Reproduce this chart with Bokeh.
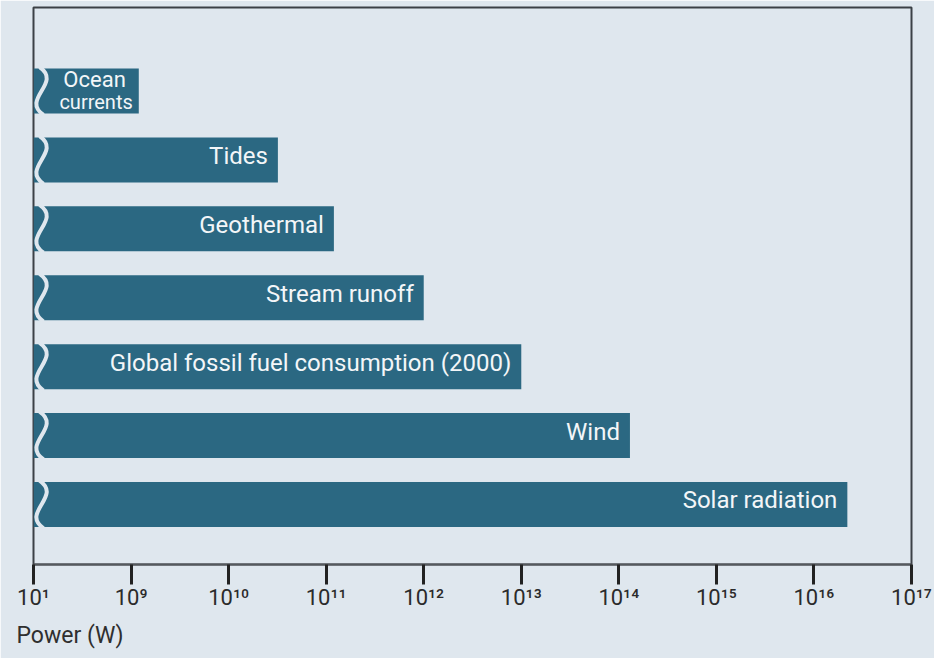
import numpy as np
from bokeh.plotting import figure
from bokeh.models import Range1d, FixedTicker, ColumnDataSource, Title
from bokeh.core.properties import value
from bokeh.embed import file_html
from bokeh.resources import INLINE

# ---- data ----
sources = ["Ocean currents", "Tides", "Geothermal", "Stream runoff",
           "Global fossil fuel consumption (2000)", "Wind", "Solar radiation"]
labels = ["Ocean\ncurrents", "Tides", "Geothermal", "Stream runoff",
          "Global fossil fuel consumption (2000)", "Wind", "Solar radiation"]
power_w = [1.2e9, 3.2e10, 1.2e11, 1.0e12, 1.0e13, 1.3e14, 2.2e16]

tick_values = [1e8, 1e9, 1e10, 1e11, 1e12, 1e13, 1e14, 1e15, 1e16, 1e17]
tick_labels = ["10¹", "10⁹", "10¹⁰", "10¹¹", "10¹²", "10¹³", "10¹⁴", "10¹⁵", "10¹⁶", "10¹⁷"]

BG = "#dfe7ee"
BAR = "#2b6882"
FONT = "Roboto"
TXT = "#f3f6f8"

x_start, x_end = tick_values[0], tick_values[-1]
rows = list(range(len(sources)))

p = figure(width=934, height=658, x_axis_type="log",
           x_range=Range1d(x_start, x_end),
           y_range=Range1d(len(sources) - 1 + 0.871, -1.212),
           output_backend="svg", toolbar_location=None,
           min_border_left=33, min_border_right=23,
           min_border_top=7, min_border_bottom=94)

p.background_fill_color = BG
p.border_fill_color = BG
p.outline_line_color = "#3c4146"
p.outline_line_width = 2
p.grid.visible = False
p.yaxis.visible = False

src = ColumnDataSource(dict(y=rows, right=power_w, label=labels,
                            left=[x_start] * len(rows)))
bar_h = 0.653
p.hbar(y="y", left="left", right="right", height=bar_h, source=src,
       fill_color=BAR, line_color=None)

# axis-break marks cut through each bar near the start of the axis
half = bar_h / 2 + 0.02
brk = ColumnDataSource(dict(
    x0=[x_start * 10 ** 0.062] * len(rows),
    y0=[r - half for r in rows],
    x1=[x_start * 10 ** 0.103] * len(rows),
    y1=[r + half for r in rows],
    cx0=[x_start * 10 ** 0.30] * len(rows),
    cy0=[r - half / 3 for r in rows],
    cx1=[x_start * 10 ** -0.135] * len(rows),
    cy1=[r + half / 3 for r in rows],
))
p.bezier(x0="x0", y0="y0", x1="x1", y1="y1", cx0="cx0", cy0="cy0",
         cx1="cx1", cy1="cy1", source=brk, line_color=BG, line_width=4)

main = ColumnDataSource(dict(x=power_w[1:], y=rows[1:], t=labels[1:]))
p.text(x="x", y="y", text="t", source=main, text_align="right",
       text_baseline="middle", x_offset=-10, y_offset=-4, text_color=TXT,
       text_font=value(FONT), text_font_size="24px")

line1, line2 = labels[0].split("\n")
p.text(x=[power_w[0]], y=[rows[0]], text=[line1], text_align="right",
       text_baseline="middle", x_offset=-13, y_offset=-12, text_color=TXT,
       text_font=value(FONT), text_font_size="22px")
p.text(x=[power_w[0]], y=[rows[0]], text=[line2], text_align="right",
       text_baseline="middle", x_offset=-6, y_offset=11, text_color=TXT,
       text_font=value(FONT), text_font_size="20px")

ax = p.xaxis[0]
ax.ticker = FixedTicker(ticks=tick_values, minor_ticks=[])
ax.major_label_overrides = {v: s for v, s in zip(tick_values, tick_labels)}
ax.axis_line_color = "#55595d"
ax.axis_line_width = 2
ax.major_tick_in = 0
ax.major_tick_out = 20
ax.major_tick_line_width = 3
ax.major_tick_line_color = "#222222"
ax.minor_tick_line_color = None
ax.major_label_text_font = FONT
ax.major_label_text_font_size = "22px"
ax.major_label_text_color = "#2b2b2b"
ax.major_label_standoff = 0

p.add_layout(Title(text="Power (W)", align="left", offset=-17,
                   text_font=FONT, text_font_size="23px",
                   text_font_style="normal", text_color="#2f2f2f",
                   standoff=14), "below")

open("out.html", "w").write(file_html(p, INLINE))
